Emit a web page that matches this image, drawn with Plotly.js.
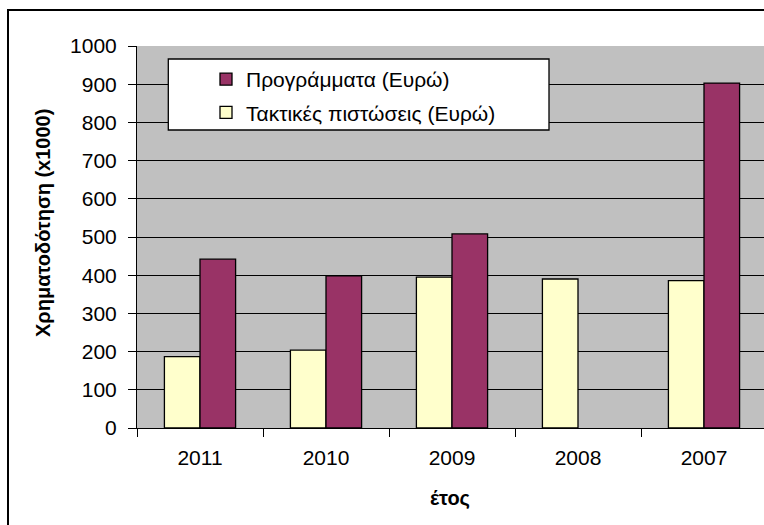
<!DOCTYPE html>
<html>
<head>
<meta charset="utf-8">
<script src="https://cdn.plot.ly/plotly-3.0.1.min.js"></script>
<style>
  html, body { margin: 0; padding: 0; background: #ffffff; overflow: hidden; width: 764px; height: 525px; }
  #chart { width: 770px; height: 525px; }
</style>
</head>
<body>
<div id="chart"></div>
<script>
// Data
const years = ["2011", "2010", "2009", "2008", "2007"];
const regularCredits = [187, 204, 395, 390, 386];      // Τακτικές πιστώσεις (Ευρώ)
const programmes = [442, 398, 508, null, 903];          // Προγράμματα (Ευρώ)
const nameRegular = "Τακτικές πιστώσεις (Ευρώ)";
const nameProgrammes = "Προγράμματα (Ευρώ)";
const yTicks = [0, 100, 200, 300, 400, 500, 600, 700, 800, 900, 1000];

const FONT = "Liberation Sans, Arial, sans-serif";

const traces = [
  {
    type: "bar", x: years, y: regularCredits, name: nameRegular,
    legendgroup: "g2", legendrank: 2,
    marker: { color: "#FFFFCC", line: { color: "#000000", width: 1.3 } },
    hoverinfo: "x+y+name"
  },
  {
    type: "bar", x: years, y: programmes, name: nameProgrammes,
    legendgroup: "g1", legendrank: 1,
    marker: { color: "#993366", line: { color: "#000000", width: 1.3 } },
    hoverinfo: "x+y+name"
  }
];

const W = 770, H = 525;
const mL = 137, mR = 3, mT = 46, mB = 97;
const pw = W - mL - mR, ph = H - mT - mB;
const px = v => (v - mL) / pw;          // pixel x -> paper x
const py = v => (H - mB - v) / ph;      // pixel y -> paper y

const layout = {
  width: W, height: H,
  margin: { l: mL, r: mR, t: mT, b: mB, pad: 0 },
  paper_bgcolor: "rgba(0,0,0,0)",
  plot_bgcolor: "#C0C0C0",
  font: { family: FONT, size: 21, color: "#000000" },
  barmode: "group",
  bargap: 0.435,
  bargroupgap: 0,
  showlegend: true,
  legend: {
    x: px(206), y: py(59), xanchor: "left", yanchor: "top",
    bgcolor: "rgba(0,0,0,0)", borderwidth: 0,
    traceorder: "grouped", tracegroupgap: 3,
    font: { family: FONT, size: 21, color: "#000000" },
    itemclick: false, itemdoubleclick: false
  },
  xaxis: {
    type: "category",
    showgrid: false,
    showline: true, linecolor: "#000000", linewidth: 1,
    ticks: "outside", tickson: "boundaries", ticklen: 8, tickcolor: "#000000", tickwidth: 1,
    ticklabelstandoff: 11,
    tickfont: { family: FONT, size: 21, color: "#000000" },
    zeroline: false, fixedrange: true
  },
  yaxis: {
    range: [0, 1000],
    tickvals: yTicks,
    ticktext: yTicks.map(String),
    showgrid: true, gridcolor: "#000000", gridwidth: 1,
    showline: true, linecolor: "#000000", linewidth: 1,
    ticks: "outside", ticklen: 8, tickcolor: "#000000", tickwidth: 1,
    ticklabelstandoff: 7,
    tickfont: { family: FONT, size: 21, color: "#000000" },
    zeroline: false, fixedrange: true
  },
  shapes: [
    // outer chart frame (left and top edges visible)
    { type: "line", xref: "paper", yref: "paper", x0: px(8), x1: px(8), y0: py(9), y1: py(530),
      line: { color: "#000000", width: 2 }, layer: "below" },
    { type: "line", xref: "paper", yref: "paper", x0: px(8), x1: px(775), y0: py(10), y1: py(10),
      line: { color: "#000000", width: 2 }, layer: "below" },
    // legend box
    { type: "rect", xref: "paper", yref: "paper", x0: px(168.3), x1: px(549), y0: py(59), y1: py(130),
      fillcolor: "#FFFFFF", line: { color: "#000000", width: 1.3 }, layer: "above" }
  ],
  annotations: [
    { text: "<b>Χρηματοδότηση (x1000)</b>", xref: "paper", yref: "paper",
      x: px(43), y: py(223), textangle: -90, showarrow: false,
      xanchor: "center", yanchor: "middle",
      font: { family: FONT, size: 20, color: "#000000" } },
    { text: "<b>έτος</b>", xref: "paper", yref: "paper",
      x: px(450), y: py(498), showarrow: false,
      xanchor: "center", yanchor: "middle",
      font: { family: FONT, size: 20, color: "#000000" } }
  ]
};

Plotly.newPlot("chart", traces, layout, { displayModeBar: false, staticPlot: true });
</script>
</body>
</html>
